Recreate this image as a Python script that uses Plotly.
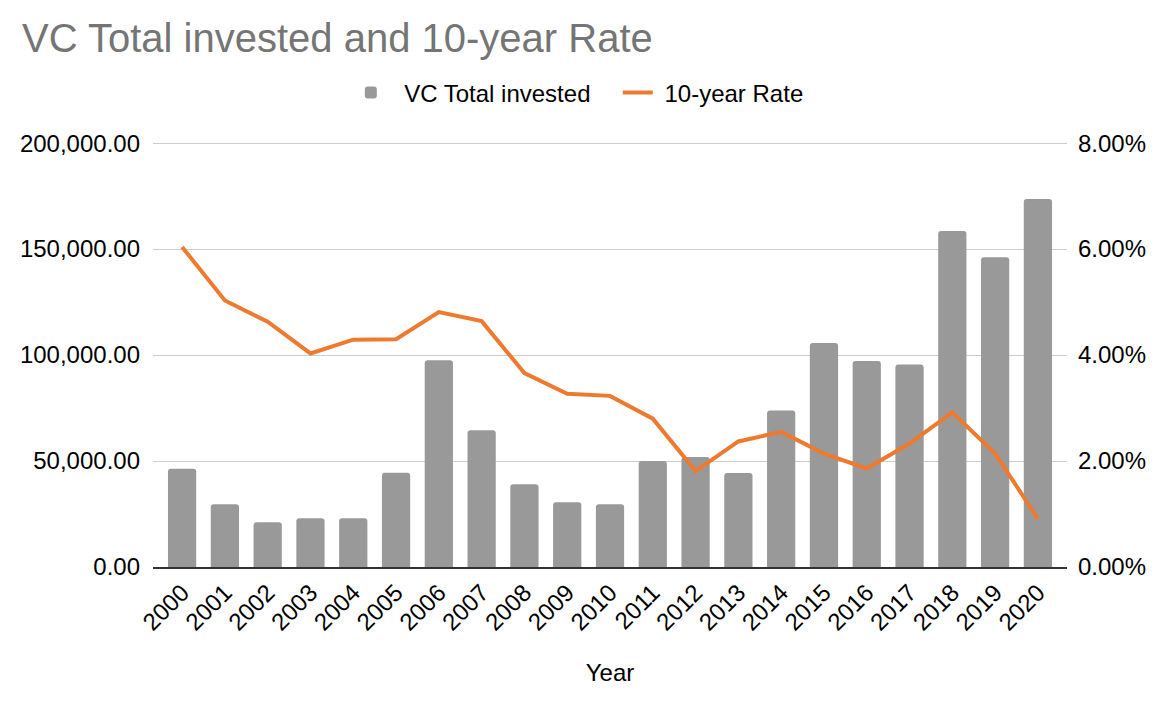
import plotly.graph_objects as go

years = [str(y) for y in range(2000, 2021)]

# VC total invested (left axis)
vc_total = [46400, 29600, 21100, 23000, 23000, 44500, 97500, 64500, 39000, 30500,
            29600, 50000, 51900, 44300, 73900, 105700, 97200, 95500, 158500, 146200, 173600]

# 10-year rate (right axis, fraction)
rate_10y = [0.0604, 0.0503, 0.0463, 0.0403, 0.0429, 0.0430, 0.0481, 0.0464, 0.0366, 0.0327,
            0.0323, 0.0280, 0.0181, 0.0237, 0.0255, 0.0214, 0.0186, 0.0233, 0.0292, 0.0214, 0.0091]

font_family = "Liberation Sans, Arial, sans-serif"

# page body adds 8px, so the figure is a little smaller than the window
W, H = 1166, 704

fig = go.Figure()

fig.add_trace(go.Bar(x=years, y=vc_total, name="\u00a0\u00a0VC Total invested",
                     marker=dict(color="#999999", cornerradius=3, line=dict(width=0))))

fig.add_trace(go.Scatter(x=years, y=rate_10y, name="\u00a010-year Rate", yaxis="y2",
                         mode="lines", line=dict(color="#ee7a30", width=4)))

fig.update_layout(
    width=W, height=H,
    margin=dict(l=145, r=107, t=133, b=145),
    paper_bgcolor="white", plot_bgcolor="white",
    font=dict(family=font_family, size=24, color="#000000"),
    title=dict(text="VC Total invested and 10-year Rate", x=14 / W, xanchor="left",
               y=1 - 30 / H, yanchor="middle",
               font=dict(family=font_family, size=40, color="#757575")),
    bargap=0.34,
    showlegend=True,
    legend=dict(orientation="h", xref="container", yref="container",
                x=0.523, xanchor="center", y=1 - 85 / H, yanchor="middle",
                font=dict(size=24), itemwidth=30, entrywidth=222, traceorder="normal"),
    xaxis=dict(range=[-0.68, 20.68], tickangle=-45, showgrid=False,
               showline=True, linecolor="#333333", linewidth=2,
               ticks="", tickfont=dict(size=24),
               title=dict(text="Year", font=dict(size=24), standoff=30)),
    yaxis=dict(range=[0, 201000], tickvals=[0, 50000, 100000, 150000, 200000],
               tickformat=",.2f",
               showgrid=True, gridcolor="#cccccc", gridwidth=1.3,
               zeroline=False, showline=False, ticks="",
               ticklabelstandoff=12, tickfont=dict(size=24)),
    yaxis2=dict(range=[0, 0.0804], tickvals=[0, 0.02, 0.04, 0.06, 0.08],
                tickformat=".2%",
                overlaying="y", side="right", showgrid=False,
                zeroline=False, showline=False, ticks="",
                ticklabelstandoff=10, tickfont=dict(size=24)),
)

fig.write_html("out.html")
